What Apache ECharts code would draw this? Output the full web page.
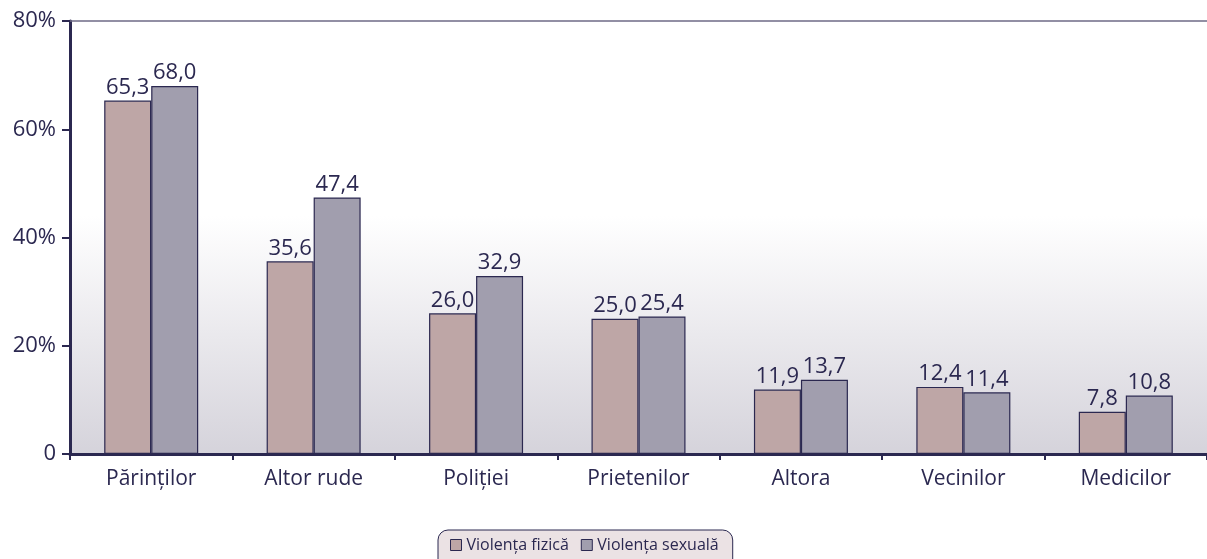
<!DOCTYPE html>
<html>
<head>
<meta charset="utf-8">
<script src="https://cdn.jsdelivr.net/npm/echarts@6/dist/echarts.min.js"></script>
<style>
  html, body { margin: 0; padding: 0; background: #fff; }
  #chart { width: 1207px; height: 559px; }
</style>
</head>
<body>
<div id="chart"></div>
<script>
var categories = ['Părinților', 'Altor rude', 'Poliției', 'Prietenilor', 'Altora', 'Vecinilor', 'Medicilor'];
var fizica = [65.3, 35.6, 26.0, 25.0, 11.9, 12.4, 7.8];
var sexuala = [68.0, 47.4, 32.9, 25.4, 13.7, 11.4, 10.8];
var seriesNames = ['Violența fizică', 'Violența sexuală'];

var ink = '#2b2850';
var font = '"Open Sans", "Noto Sans", sans-serif';

var myChart = echarts.init(document.getElementById('chart'));

function labelFmt(p) {
  return p.value.toFixed(1).replace('.', ',');
}

var option = {
  animation: false,
  textStyle: { fontFamily: font },
  grid: {
    left: 70, right: 0, top: 21, bottom: 105,
    show: true,
    borderWidth: 0,
    backgroundColor: new echarts.graphic.LinearGradient(0, 0, 0, 1, [
      { offset: 0, color: '#ffffff' },
      { offset: 0.45, color: '#ffffff' },
      { offset: 1, color: '#d5d3db' }
    ])
  },
  legend: {
    data: seriesNames,
    bottom: -14,
    left: 438,
    icon: 'rect',
    itemWidth: 11,
    itemHeight: 11,
    itemGap: 12,
    padding: [7, 14, 20, 12],
    backgroundColor: '#ebe2e4',
    borderColor: ink,
    borderWidth: 1,
    borderRadius: 10,
    textStyle: { color: ink, fontSize: 16, fontFamily: font },
    itemStyle: { borderColor: ink, borderWidth: 1 }
  },
  xAxis: {
    type: 'category',
    data: categories,
    axisLine: { lineStyle: { color: ink, width: 3 } },
    axisTick: { show: true, length: 6, lineStyle: { color: ink, width: 2 } },
    axisLabel: { color: ink, fontSize: 21, margin: 15 }
  },
  yAxis: [{
    type: 'value',
    min: 0, max: 80, interval: 20,
    axisLine: { show: true, lineStyle: { color: ink, width: 3 } },
    axisTick: { show: true, length: 8, lineStyle: { color: ink, width: 2 } },
    splitLine: { show: false },
    axisLabel: {
      color: ink, fontSize: 22, margin: 14,
      formatter: function (v) { return v === 0 ? '0' : v + '%'; }
    }
  }],
  series: [
    {
      name: seriesNames[0],
      type: 'bar',
      data: fizica,
      barWidth: 47,
      barGap: '0%',
      itemStyle: { color: '#bea6a6', borderColor: ink, borderWidth: 1.2 },
      label: { show: true, position: 'top', color: ink, fontSize: 22, distance: 2, formatter: labelFmt }
    },
    {
      name: seriesNames[1],
      type: 'bar',
      data: sexuala,
      barWidth: 47,
      itemStyle: { color: '#a19eae', borderColor: ink, borderWidth: 1.2 },
      label: { show: true, position: 'top', color: ink, fontSize: 22, distance: 2, formatter: labelFmt },
      markLine: {
        silent: true,
        symbol: 'none',
        label: { show: false },
        lineStyle: { color: '#6e6a86', type: 'solid', width: 1.5 },
        data: [{ yAxis: 80 }]
      }
    }
  ]
};

myChart.setOption(option);
</script>
</body>
</html>
